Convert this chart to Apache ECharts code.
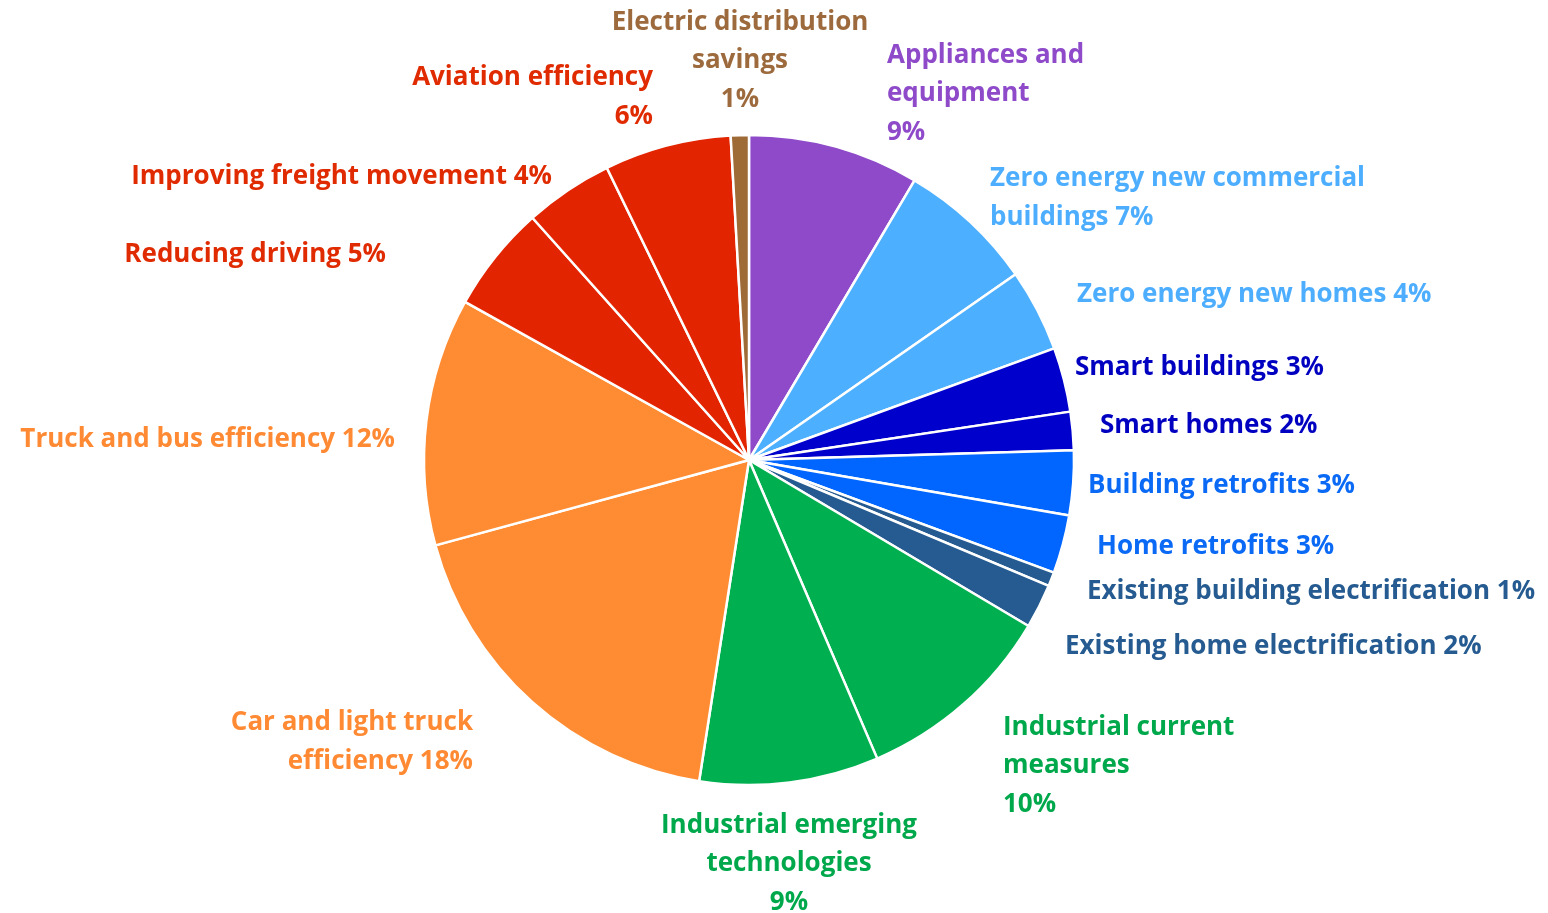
<!DOCTYPE html>
<html>
<head>
<meta charset="utf-8">
<script src="https://cdn.jsdelivr.net/npm/echarts@6/dist/echarts.min.js"></script>
<style>html,body{margin:0;padding:0;background:#fff;}#chart{width:1548px;height:913px;}</style>
</head>
<body>
<div id="chart"></div>
<script>
// Categories (clockwise from 12 o'clock)
const categories = [
  "Appliances and equipment",
  "Zero energy new commercial buildings",
  "Zero energy new homes",
  "Smart buildings",
  "Smart homes",
  "Building retrofits",
  "Home retrofits",
  "Existing building electrification",
  "Existing home electrification",
  "Industrial current measures",
  "Industrial emerging technologies",
  "Car and light truck efficiency",
  "Truck and bus efficiency",
  "Reducing driving",
  "Improving freight movement",
  "Aviation efficiency",
  "Electric distribution savings"
];
// Shares (% of savings)
const values = [8.5, 6.8, 4.1, 3.2, 1.9, 3.2, 2.9, 0.7, 2.2, 10.0, 8.9, 18.3, 12.3, 5.3, 4.4, 6.3, 0.9];
// Percent labels as printed
const pctLabels = ["9%", "7%", "4%", "3%", "2%", "3%", "3%", "1%", "2%", "10%", "9%", "18%", "12%", "5%", "4%", "6%", "1%"];
// Label text line layout (as printed)
const labelTexts = [
  "Appliances and\nequipment\n9%",
  "Zero energy new commercial\nbuildings 7%",
  "Zero energy new homes 4%",
  "Smart buildings 3%",
  "Smart homes 2%",
  "Building retrofits 3%",
  "Home retrofits 3%",
  "Existing building electrification 1%",
  "Existing home electrification 2%",
  "Industrial current\nmeasures\n10%",
  "Industrial emerging\ntechnologies\n9%",
  "Car and light truck\nefficiency 18%",
  "Truck and bus efficiency 12%",
  "Reducing driving 5%",
  "Improving freight movement 4%",
  "Aviation efficiency\n6%",
  "Electric distribution\nsavings\n1%"
];

// Styles
const sliceColors = ["#8E4AC9", "#4DAFFF", "#4DAFFF", "#0000CC", "#0000CC", "#0066FF", "#0066FF", "#255B90", "#255B90",
  "#00B050", "#00B050", "#FF8C33", "#FF8C33", "#E32400", "#E32400", "#E32400", "#9E6A36"];
const textColors = ["#8E4AC9", "#4DAEFF", "#4DAEFF", "#0000C0", "#0000C0", "#0A6AF5", "#0A6AF5", "#255B90", "#255B90",
  "#00A84C", "#00A84C", "#FF8A33", "#FF8A33", "#E02A00", "#E02A00", "#E02A00", "#9C6A3C"];
// Label anchor positions [x, y, align]
const labelPos = [
  [887, 94, "left"], [990, 198, "left"], [1077, 295, "left"], [1075, 368, "left"], [1100, 426, "left"],
  [1088, 486, "left"], [1097, 547, "left"], [1087, 592, "left"], [1065, 647, "left"], [1003, 766, "left"],
  [789, 864, "center"], [473, 742, "right"], [395, 440, "right"], [386, 255, "right"], [552, 177, "right"],
  [653, 97, "right"], [740, 61, "center"]
];

const chart = echarts.init(document.getElementById('chart'), null, {renderer: 'canvas'});
chart.setOption({
  backgroundColor: '#ffffff',
  animation: false,
  series: [{
    type: 'pie',
    center: [749, 460],
    radius: 325,
    startAngle: 90,
    clockwise: true,
    avoidLabelOverlap: false,
    data: categories.map((c, i) => ({
      name: c,
      value: values[i],
      itemStyle: {color: sliceColors[i]},
      label: {color: textColors[i], align: labelPos[i][2]}
    })),
    itemStyle: {borderColor: '#ffffff', borderWidth: 2.5},
    label: {
      show: true,
      position: 'outside',
      formatter: p => labelTexts[p.dataIndex],
      fontFamily: 'Open Sans',
      fontWeight: 'bold',
      fontSize: 26,
      lineHeight: 38.5
    },
    labelLine: {show: false},
    labelLayout: p => ({
      x: labelPos[p.dataIndex][0],
      y: labelPos[p.dataIndex][1],
      align: labelPos[p.dataIndex][2],
      verticalAlign: 'middle'
    })
  }]
});
</script>
</body>
</html>
